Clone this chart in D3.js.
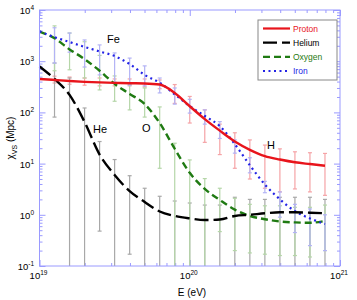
<!DOCTYPE html>
<html>
<head>
<meta charset="utf-8">
<script src="https://cdn.jsdelivr.net/npm/d3@7"></script>
<style>
body { margin: 0; background: #fff; }
svg { display: block; font-family: "Liberation Sans", Arial, sans-serif; }
</style>
</head>
<body>
<div id="chart"></div>
<script>

var width = 357,
    height = 300;

// curve points, log10(E/eV)
var curveLogE = [19.0, 19.1, 19.2, 19.3, 19.4, 19.5, 19.6, 19.7, 19.8, 19.9,
                 20.0, 20.1, 20.2, 20.3, 20.4, 20.5, 20.6, 20.7, 20.8, 20.9];
var proton = [450, 430, 410, 395, 385, 378, 372, 368, 350, 240,
              132, 74, 44, 27, 18.6, 14, 12, 10.6, 9.8, 9.1];
var helium = [790, 450, 220, 65, 15, 6.0, 2.9, 1.78, 1.16, 0.95,
              0.85, 0.79, 0.81, 0.95, 1.0, 1.07, 1.12, 1.12, 1.10, 1.07];
var oxygen = [3800, 2800, 1700, 1100, 650, 360, 230, 145, 62, 19.5,
              6.6, 3.2, 1.95, 1.26, 0.95, 0.82, 0.74, 0.71, 0.70, 0.76];
var iron = [3800, 2950, 2370, 1900, 1550, 1260, 880, 540, 380, 225,
            133, 85, 54, 24, 9.3, 3.9, 2.0, 1.18, 0.85, 0.66];

// error bars (upper / lower ends)
var barLogE = [19.1, 19.2, 19.3, 19.4, 19.5, 19.6, 19.7, 19.8, 19.9, 20.0,
               20.1, 20.2, 20.3, 20.4, 20.5, 20.6, 20.7, 20.8, 20.9];
var protonHi = [510, 490, 470, 470, 450, 450, 450, 430, 350, 205, 112, 59, 40, 29, 23, 19.4, 17, 16.3, 15.8];
var protonLo = [375, 355, 340, 330, 330, 330, 315, 290, 150, 62, 26, 15, 8.1, 5.0, 3.3, 2.8, 3.2, 2.8, 2.4];
var heliumHi = [920, 470, 122, 27, 12, 5.8, 3.3, 2.3, 1.86, 1.7, 1.55, 1.55, 2.2, 2.0, 2.0, 2.2, 2.2, 2.2, 2.0];
var heliumLo = [81, 0.1, 0.1, 0.48, 0.1, 0.17, 0.1, 0.1, 0.1, 0.1, 0.1, 0.1, 0.1, 0.1, 0.1, 0.1, 0.1, 0.1, 0.1];
var oxygenHi = [4900, 3550, 2400, 1300, 515, 350, 300, 128, 25, 11.8, 5.1, 3.3, 2.1, 1.6, 1.5, 1.5, 1.4, 1.4, 1.55];
var oxygenLo = [650, 680, 470, 275, 165, 112, 81, 8.1, 0.1, 0.1, 0.1, 0.47, 0.2, 0.18, 0.17, 0.16, 0.16, 0.15, 0.2];
var ironHi = [4500, 3550, 2600, 2080, 1450, 1150, 810, 470, 300, 180, 112, 66, 29, 13, 4.5, 2.8, 1.6, 1.3, 1.0];
var ironLo = [920, 1500, 770, 540, 390, 340, 330, 240, 145, 97, 59, 31, 16, 6.6, 2.7, 0.9, 0.45, 0.25, 0.2];

var names = ["Proton", "Helium", "Oxygen", "Iron"];
var colors = ["#e8141b", "#000000", "#1f7a12", "#2323e6"];
var barColors = ["#f5a3a6", "#a8a8a8", "#b5d6a8", "#b3b3f5"];
var dashes = [null, "14,5", "7,4", "2,3.5"];

var xTickExp = [19, 20, 21];
var yTickExp = [-1, 0, 1, 2, 3, 4];

var series = [
  {name: names[0], vals: proton, hi: protonHi, lo: protonLo},
  {name: names[1], vals: helium, hi: heliumHi, lo: heliumLo},
  {name: names[2], vals: oxygen, hi: oxygenHi, lo: oxygenLo},
  {name: names[3], vals: iron, hi: ironHi, lo: ironLo}
];

var plotLeft = 39.5, plotRight = 340, plotTop = 10, plotBottom = 266;

var x = d3.scaleLog().domain([1e19, 1e21]).range([plotLeft, plotRight]);
var y = d3.scaleLog().domain([0.1, 1e4]).range([plotBottom, plotTop]).clamp(true);

var svg = d3.select("#chart").append("svg")
    .attr("width", width)
    .attr("height", height);

var axisColor = "#9a9aff";

// ticks, pointing inward on all four sides
var xMinor = x.ticks().filter(function(v) { return Math.abs(Math.log10(v) - Math.round(Math.log10(v))) > 1e-6; });
var yMinor = y.ticks().filter(function(v) { return Math.abs(Math.log10(v) - Math.round(Math.log10(v))) > 1e-6; });
var xMajor = xTickExp.map(function(e) { return Math.pow(10, e); });
var yMajor = yTickExp.map(function(e) { return Math.pow(10, e); });

function tickAxis(axisFn, scale, vals, size, tx, ty) {
  var g = svg.append("g")
      .attr("transform", "translate(" + tx + "," + ty + ")")
      .call(axisFn(scale).tickValues(vals).tickSize(size).tickFormat(""));
  g.select(".domain").remove();
  g.selectAll("line").attr("stroke", axisColor).attr("stroke-width", 1);
}
tickAxis(d3.axisBottom, x, xMajor, -6, 0, plotBottom);
tickAxis(d3.axisBottom, x, xMinor, -3, 0, plotBottom);
tickAxis(d3.axisTop, x, xMajor, -6, 0, plotTop);
tickAxis(d3.axisTop, x, xMinor, -3, 0, plotTop);
tickAxis(d3.axisLeft, y, yMajor, -6, plotLeft, 0);
tickAxis(d3.axisLeft, y, yMinor, -3, plotLeft, 0);
tickAxis(d3.axisRight, y, yMajor, -6, plotRight, 0);
tickAxis(d3.axisRight, y, yMinor, -3, plotRight, 0);

// error bars
series.forEach(function(s, k) {
  var g = svg.append("g").attr("stroke", barColors[k]).attr("stroke-width", 1.2).attr("fill", "none");
  barLogE.forEach(function(le, i) {
    var px = x(Math.pow(10, le));
    var y1 = y(s.hi[i]), y2 = y(s.lo[i]);
    g.append("line").attr("x1", px).attr("x2", px).attr("y1", y1).attr("y2", y2);
    g.append("line").attr("x1", px - 2).attr("x2", px + 2).attr("y1", y1).attr("y2", y1);
    if (s.lo[i] > 0.1)
      g.append("line").attr("x1", px - 2).attr("x2", px + 2).attr("y1", y2).attr("y2", y2);
  });
});

// curves
var line = d3.line()
    .x(function(d, i) { return x(Math.pow(10, curveLogE[i])); })
    .y(function(d) { return y(d); })
    .curve(d3.curveMonotoneX);

var drawOrder = [2, 3, 1, 0];
drawOrder.forEach(function(k) {
  svg.append("path")
      .datum(series[k].vals)
      .attr("fill", "none")
      .attr("stroke", colors[k])
      .attr("stroke-width", k === 3 ? 2.2 : 2.4)
      .attr("stroke-dasharray", dashes[k])
      .attr("d", line);
});

// frame
svg.append("rect")
    .attr("x", plotLeft).attr("y", plotTop)
    .attr("width", plotRight - plotLeft).attr("height", plotBottom - plotTop)
    .attr("fill", "none").attr("stroke", axisColor).attr("stroke-width", 1);

// tick labels
function powLabel(g, txt, exp) {
  g.text(txt);
  g.append("tspan").attr("dy", -4).attr("font-size", 6.5).text(exp);
}
xTickExp.forEach(function(e) {
  var t = svg.append("text")
      .attr("x", x(Math.pow(10, e)) - 1)
      .attr("y", 279)
      .attr("text-anchor", "middle")
      .attr("font-size", 9.5);
  powLabel(t, "10", e);
});
yTickExp.forEach(function(e) {
  var t = svg.append("text")
      .attr("x", 34)
      .attr("y", y(Math.pow(10, e)) + 4)
      .attr("text-anchor", "end")
      .attr("font-size", 9.5);
  powLabel(t, "10", e);
});

// axis titles
svg.append("text")
    .attr("x", 192).attr("y", 296)
    .attr("text-anchor", "middle")
    .attr("font-size", 10)
    .text("E (eV)");

var yt = svg.append("text")
    .attr("transform", "translate(14,138) rotate(-90)")
    .attr("text-anchor", "middle")
    .attr("font-size", 10);
yt.append("tspan").text("\u03c7");
yt.append("tspan").attr("dy", 3).attr("font-size", 7).text("VS");
yt.append("tspan").attr("dy", -3).text(" (Mpc)");

// curve annotations
var notes = [["Fe", 107, 43], ["He", 93, 133], ["O", 142, 132], ["H", 267, 149]];
notes.forEach(function(n) {
  svg.append("text").attr("x", n[1]).attr("y", n[2]).attr("font-size", 11).text(n[0]);
});

// legend
var lg = svg.append("g").attr("transform", "translate(258,20)");
lg.append("rect")
    .attr("width", 79).attr("height", 60)
    .attr("fill", "#fff").attr("stroke", "#888").attr("stroke-width", 1);
names.forEach(function(nm, k) {
  var ry = 8.5 + k * 14.2;
  lg.append("line")
      .attr("x1", 5).attr("x2", 32)
      .attr("y1", ry).attr("y2", ry)
      .attr("stroke", colors[k])
      .attr("stroke-width", k === 3 ? 2 : 2.2)
      .attr("stroke-dasharray", dashes[k]);
  lg.append("text")
      .attr("x", 35).attr("y", ry + 3)
      .attr("font-size", 8.5)
      .attr("fill", colors[k])
      .text(nm);
});

</script>
</body>
</html>
